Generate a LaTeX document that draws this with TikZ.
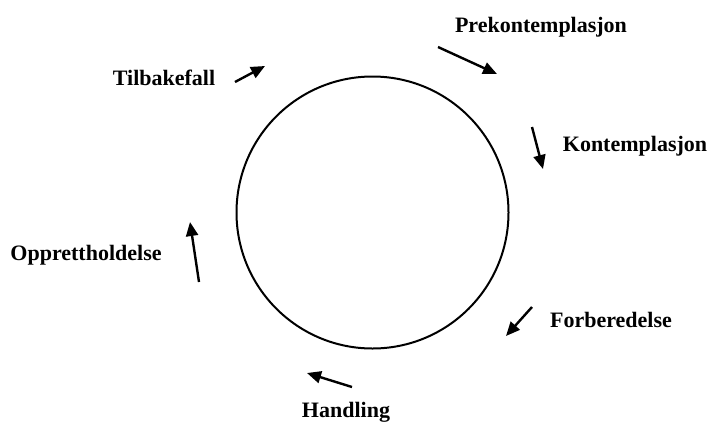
\documentclass[tikz,border=0pt]{standalone}
\usepackage{fontspec}
\setmainfont{Liberation Serif}
\usetikzlibrary{arrows.meta}

\tikzset{
    stage/.style={font=\bfseries\fontsize{22}{24}\selectfont, inner sep=0pt},
    stagearrow/.style={line width=2.4pt, -{Triangle[length=14pt,width=12pt]}}
}

\begin{document}
\begin{tikzpicture}[x=1pt,y=-1pt]
    \useasboundingbox (0,0) rectangle (709,421);
    \coordinate (O) at (372.5,212.5);
    \draw[line width=2pt] (O) circle (136pt);
    % labels
    \node[stage] (pre) at (541,27) {Prekontemplasjon};
    \node[stage] (kon) at (635,146) {Kontemplasjon};
    \node[stage] (forb) at (611,320) {Forberedelse};
    \node[stage] (han) at (346,412) {Handling};
    \node[stage] (opp) at (86,255) {Opprettholdelse};
    \node[stage] (til) at (164,78) {Tilbakefall};
    % arrows
    \coordinate (preA) at (438,47);  \coordinate (preB) at (497,74);
    \coordinate (konA) at (532,127); \coordinate (konB) at (543,169);
    \coordinate (forA) at (532,307); \coordinate (forB) at (506,336);
    \coordinate (hanA) at (352,387); \coordinate (hanB) at (307,373);
    \coordinate (oppA) at (199,282); \coordinate (oppB) at (190,222);
    \coordinate (tilA) at (235,82);  \coordinate (tilB) at (265,66);
    \foreach \s in {pre,kon,for,han,opp,til} {\draw[stagearrow] (\s A) -- (\s B);}
\end{tikzpicture}
\end{document}
